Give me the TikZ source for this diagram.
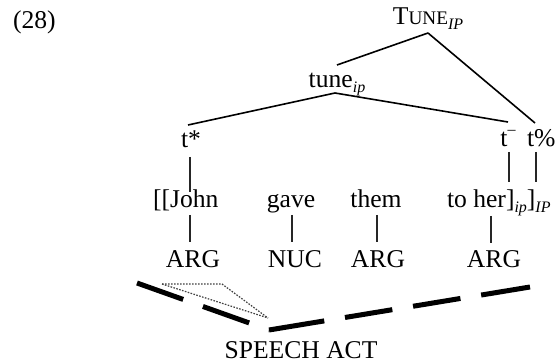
\documentclass[tikz,border=0pt]{standalone}
\usepackage{fontspec}
\setmainfont{Liberation Serif}
% italic subscript and small-capital helpers
\newcommand\lowidx[1]{\raisebox{-0.18em}{\fontsize{8}{8}\selectfont\itshape #1}}
\newcommand\smcap[1]{{\fontsize{9.6}{10}\selectfont #1}}
\begin{document}
\begin{tikzpicture}[x=0.5pt,y=-0.5pt,
  every node/.style={inner sep=0pt,outer sep=0pt,font=\fontsize{12.8}{15}\selectfont},
  word/.style={anchor=base},
  wordw/.style={anchor=base west},
  branch/.style={line width=0.8pt},
  assoc/.style={line width=0.8pt,black!85},
  actline/.style={line width=2.5pt},
  scopeline/.style={line width=0.6pt,black!75,dash pattern=on 0.8pt off 0.7pt}]
\useasboundingbox (0,0) rectangle (557,363);

% example number
\node[wordw] (num) at (13,29) {(28)};

% tune tree
\node[word] (TUNE) at (428,25) {T\smcap{UNE}\lowidx{IP}};
\node[word] (tune) at (337,88) {tune\lowidx{ip}};
\node[word] (tstar) at (191,148) {t*};
\node[word] (tminus) at (508,147) {t\raisebox{0.5em}{\fontsize{8}{8}\selectfont –}};
\node[wordw] (tperc) at (527,147) {t\%};

% sentence
\node[wordw] (john) at (153,208) {[[John};
\node[word] (gave) at (291,208) {gave};
\node[word] (them) at (376,208) {them};
\node[wordw] (toher) at (447,208) {to her]\lowidx{ip}]\lowidx{IP}};

% semantic roles
\node[word] (arg1) at (193,268) {ARG};
\node[word] (nuc) at (295,268) {NUC};
\node[word] (arg2) at (378,268) {ARG};
\node[word] (arg3) at (494,268) {ARG};

\node[word] (sact) at (301,358) {SPEECH ACT};

% branch end points
\coordinate (TUNEb) at (428,33);
\coordinate (tuneT) at (337,65);
\coordinate (tuneb) at (335,93);
\coordinate (tstarT) at (188,125);
\coordinate (tminusT) at (508,122);
\coordinate (tpercT) at (535,123);

\draw[branch] (TUNEb) -- (tuneT);
\draw[branch] (TUNEb) -- (tpercT);
\draw[branch] (tuneb) -- (tstarT);
\draw[branch] (tuneb) -- (tminusT);

% tone associations
\coordinate (a1) at (190,157); \coordinate (a2) at (190,192);
\coordinate (b1) at (509,152); \coordinate (b2) at (509,182);
\coordinate (c1) at (536,152); \coordinate (c2) at (536,182);
\draw[assoc] (a1) -- (a2);
\draw[assoc] (b1) -- (b2);
\draw[assoc] (c1) -- (c2);

% word-to-role links
\coordinate (d1) at (190,215); \coordinate (d2) at (190,242);
\coordinate (e1) at (292,215); \coordinate (e2) at (292,242);
\coordinate (f1) at (377,215); \coordinate (f2) at (377,242);
\coordinate (g1) at (491,216); \coordinate (g2) at (491,243);
\draw[assoc] (d1) -- (d2);
\draw[assoc] (e1) -- (e2);
\draw[assoc] (f1) -- (f2);
\draw[assoc] (g1) -- (g2);

% speech act span
\coordinate (sL) at (137,283);
\coordinate (sV) at (269,330);
\coordinate (sR) at (530,287);
\draw[actline,dash pattern=on 24.5pt off 10.5pt] (sL) -- (sV);
\draw[actline,dash pattern=on 28pt off 10.5pt on 24pt off 10.5pt on 24pt off 10.5pt on 30pt off 10pt] (sV) -- (sR);

% focus scope triangle
\coordinate (fA) at (162,284);
\coordinate (fB) at (222,284);
\coordinate (fC) at (268,318);
\draw[scopeline] (fA) -- (fB) -- (fC);
\draw[scopeline] (fA) -- (fC);
\end{tikzpicture}
\end{document}
